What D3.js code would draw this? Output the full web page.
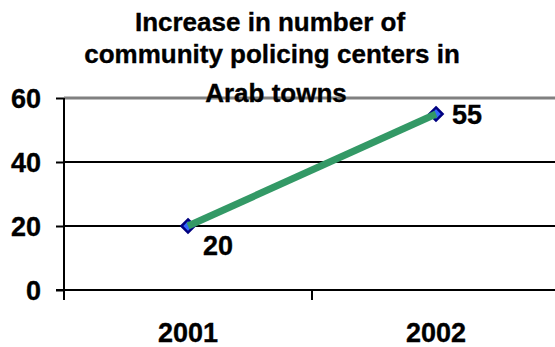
<!DOCTYPE html>
<html>
<head>
<meta charset="utf-8">
<script src="https://cdn.jsdelivr.net/npm/d3@7"></script>
<style>
  html, body { margin: 0; padding: 0; background: #fff; }
  svg { display: block; }
  svg text { font-family: "Liberation Sans", Arial, sans-serif; font-weight: bold; stroke: #000; stroke-width: 0.35px; }
</style>
</head>
<body>
<svg id="chart" width="555" height="347"></svg>
<script>
// Chart data
const years = ["2001", "2002"];
const centers = [20, 55];
const yTicks = [0, 20, 40, 60];
const titleLines = ["Increase in number of", "community policing centers in", "Arab towns"];

const svg = d3.select("#chart");

const x = d3.scaleBand().domain(years).range([64, 560]).padding(0);
const y = d3.scaleLinear().domain([0, 60]).range([290, 98]);

// Gridlines (the top one doubles as the grey plot border)
svg.append("g").selectAll("line")
  .data(yTicks.filter(d => d > 0))
  .join("line")
  .attr("x1", 64).attr("x2", 560)
  .attr("y1", d => y(d)).attr("y2", d => y(d))
  .attr("stroke", d => d === 60 ? "#808080" : "#000")
  .attr("stroke-width", d => d === 60 ? 3 : 2);

// Title
svg.append("g").selectAll("text")
  .data(titleLines)
  .join("text")
  .attr("x", (d, i) => [270, 272, 276][i])
  .attr("y", (d, i) => [31, 63, 102][i])
  .attr("text-anchor", "middle")
  .attr("font-size", 26)
  .attr("fill", "#000")
  .text(d => d);

// Y axis
const yAxis = d3.axisLeft(y).tickValues(yTicks).tickSize(8).tickPadding(15);
const gy = svg.append("g").attr("transform", "translate(64,0)").call(yAxis)
  .attr("font-family", null).attr("font-size", null);
gy.select(".domain").remove();
gy.selectAll(".tick line").attr("stroke", "#000").attr("stroke-width", 2);
gy.selectAll(".tick text").attr("font-size", 27).attr("fill", "#000").attr("dy", "0.36em");
gy.append("line").attr("x1", 0).attr("x2", 0).attr("y1", y(60)).attr("y2", 300)
  .attr("stroke", "#000").attr("stroke-width", 2);

// X axis: ticks at category boundaries, labels centred in each band
const gx = svg.append("g").attr("transform", `translate(0,${y(0)})`);
gx.append("line").attr("x1", 56).attr("x2", 560).attr("y1", 0).attr("y2", 0)
  .attr("stroke", "#000").attr("stroke-width", 2);
gx.selectAll("line.tk")
  .data(years.map(d => x(d)).concat([x.range()[1]]))
  .join("line").attr("class", "tk")
  .attr("x1", d => d).attr("x2", d => d)
  .attr("y1", 0).attr("y2", 10)
  .attr("stroke", "#000").attr("stroke-width", 2);
gx.selectAll("text")
  .data(years)
  .join("text")
  .attr("x", d => x(d) + x.bandwidth() / 2)
  .attr("y", 52)
  .attr("text-anchor", "middle")
  .attr("font-size", 27)
  .attr("fill", "#000")
  .text(d => d);

const pts = years.map((d, i) => ({ year: d, value: centers[i] }));
const cx = d => x(d.year) + x.bandwidth() / 2;

// Diamond markers
svg.append("g").selectAll("path")
  .data(pts)
  .join("path")
  .attr("d", d3.symbol().type(d3.symbolDiamond2).size(110))
  .attr("transform", d => `translate(${cx(d)},${y(d.value)})`)
  .attr("fill", "#3366ff")
  .attr("stroke", "#000080")
  .attr("stroke-width", 2.5);

// Series line
svg.append("path")
  .datum(pts)
  .attr("d", d3.line().x(cx).y(d => y(d.value)))
  .attr("fill", "none")
  .attr("stroke", "#339966")
  .attr("stroke-width", 7);

// Value labels
svg.append("g").selectAll("text")
  .data(pts)
  .join("text")
  .attr("x", d => cx(d) + (d.value === 20 ? 30 : 31))
  .attr("y", d => y(d.value) + (d.value === 20 ? 29 : 10))
  .attr("text-anchor", "middle")
  .attr("font-size", 27)
  .attr("fill", "#000")
  .text(d => d.value);
</script>
</body>
</html>
